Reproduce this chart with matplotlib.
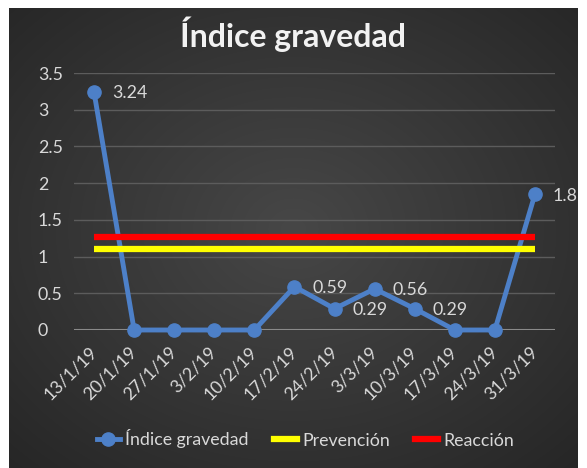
import numpy as np
import matplotlib
matplotlib.use("Agg")
import matplotlib.pyplot as plt
from matplotlib.lines import Line2D

# Weekly severity index data
fechas = ["13/1/19", "20/1/19", "27/1/19", "3/2/19", "10/2/19", "17/2/19",
          "24/2/19", "3/3/19", "10/3/19", "17/3/19", "24/3/19", "31/3/19"]
indice = [3.24, 0, 0, 0, 0, 0.59, 0.29, 0.56, 0.29, 0, 0, 1.85]
prevencion = [1.1] * len(fechas)
reaccion = [1.27] * len(fechas)

plt.rcParams['font.family'] = ['Lato', 'DejaVu Sans']
TXT = '#d9d9d9'
AZUL = '#4d80c8'
FS = 12.8

W, H = 587, 468
fig = plt.figure(figsize=(W / 100, H / 100), dpi=100)
fig.patch.set_facecolor('white')

# Dark panel with a soft radial gradient
px0, py0, px1, py1 = 9, 8, 578, 468
panel = fig.add_axes([px0 / W, 1 - py1 / H, (px1 - px0) / W, (py1 - py0) / H])
gy, gx = np.mgrid[0:1:300j, 0:1:400j]
r = np.sqrt(((gx - 0.5) / 0.75) ** 2 + ((gy - 0.48) / 0.75) ** 2)
r = np.clip(r, 0, 1)
c0 = np.array([0x47, 0x47, 0x47]) / 255
c1 = np.array([0x25, 0x25, 0x25]) / 255
img = c0[None, None, :] * (1 - r[..., None]) + c1[None, None, :] * r[..., None]
panel.imshow(img, extent=[0, 1, 0, 1], aspect='auto', interpolation='bilinear')
panel.set_xlim(0, 1)
panel.set_ylim(0, 1)
panel.axis('off')

# Plot area
ax0, ax1 = 74, 555
ay_top, ay_bot = 73, 330
ax = fig.add_axes([ax0 / W, 1 - ay_bot / H, (ax1 - ax0) / W, (ay_bot - ay_top) / H])
ax.set_facecolor('none')
x = np.arange(len(fechas))

ax.set_xlim(-0.5, len(fechas) - 0.5)
ax.set_ylim(0, 3.5)
ax.set_yticks(np.arange(0, 3.51, 0.5))
ax.set_yticklabels(['0', '0.5', '1', '1.5', '2', '2.5', '3', '3.5'])
ax.grid(axis='y', color='#5c5c5c', linewidth=1)
ax.set_axisbelow(True)
for s in ax.spines.values():
    s.set_visible(False)
ax.axhline(0, color='#8a8a8a', linewidth=1.5, zorder=1)

ax.plot(x, indice, color=AZUL, linewidth=3.5, marker='o', markersize=9.5,
        markerfacecolor=AZUL, markeredgecolor=AZUL, zorder=2, clip_on=False)
ax.plot(x, prevencion, color='#ffff00', linewidth=4.5, solid_capstyle='butt', zorder=3)
ax.plot(x, reaccion, color='#ff0000', linewidth=4.5, solid_capstyle='butt', zorder=3)

for xi, v in zip(x, indice):
    if v != 0:
        t = ax.annotate(f"{v:.2f}", (xi, v), xytext=(13, -1), textcoords='offset points',
                        ha='left', va='center', color=TXT, fontsize=FS)
        t.set_clip_on(True)
        t.set_clip_box(panel.bbox)

ax.set_xticks(x)
ax.set_xticklabels(fechas, rotation=45, ha='right', va='center', rotation_mode='anchor',
                   color=TXT, fontsize=FS)
ax.tick_params(axis='x', length=0, pad=14)
ax.tick_params(axis='y', length=0, pad=26, labelcolor=TXT, labelsize=FS)
for lb in ax.get_yticklabels():
    lb.set_ha('left')

fig.text(0.5, 1 - 34 / H, "Índice gravedad", ha='center', va='center',
         color='#f2f2f2', fontsize=23, fontweight='bold')

handles = [
    Line2D([], [], color=AZUL, linewidth=3.5, marker='o', markersize=9.5),
    Line2D([], [], color='#ffff00', linewidth=4.5),
    Line2D([], [], color='#ff0000', linewidth=4.5),
]
leg = fig.legend(handles, ["Índice gravedad", "Prevención", "Reacción"],
                 loc='center', bbox_to_anchor=(0.52, 1 - 439 / H), ncol=3,
                 frameon=False, fontsize=FS, labelcolor=TXT,
                 handlelength=1.3, handletextpad=0.3, columnspacing=1.4)

fig.savefig('out.png', dpi=100, facecolor=fig.get_facecolor())
